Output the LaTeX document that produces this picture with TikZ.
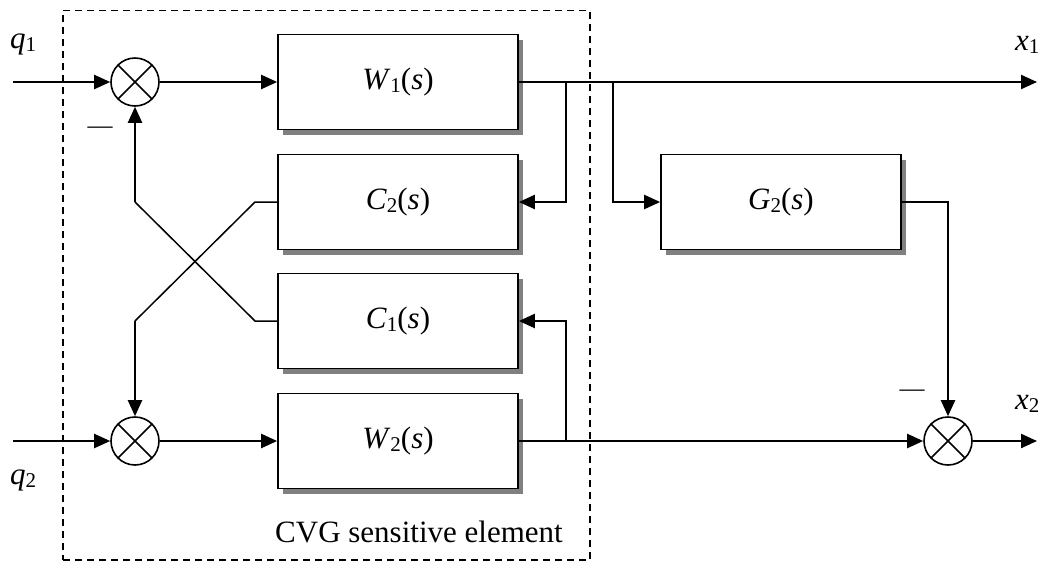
\documentclass[tikz,border=0pt]{standalone}
\usepackage{fontspec}
\setmainfont{Liberation Serif}
\usetikzlibrary{arrows.meta,shadows}
\newcommand{\sbs}[1]{\raisebox{-3pt}{\fontsize{21}{21}\selectfont #1}}
\newcommand{\tf}[2]{\textit{#1}\sbs{#2}(\textit{s})}
\tikzset{
  blk/.style={draw, line width=1.7pt, fill=white, minimum width=240pt, minimum height=95pt,
    inner sep=0pt, font=\fontsize{31}{36}\selectfont,
    drop shadow={shadow xshift=5pt, shadow yshift=-5pt, fill=black!50, opacity=1}},
  sumj/.style={circle, draw, line width=1.6pt, minimum size=48pt, inner sep=0pt, fill=white,
    path picture={\draw[line width=1.6pt] (path picture bounding box.north west) -- (path picture bounding box.south east)
      (path picture bounding box.north east) -- (path picture bounding box.south west);}},
  arr/.style={-{Triangle[length=16pt,width=14pt]}, line width=2.2pt},
  thinwire/.style={line width=1.5pt, line join=miter},
  lab/.style={font=\fontsize{31}{36}\selectfont, inner sep=0pt},
  frame/.style={draw, line width=1.4pt, dash pattern=on 7pt off 5pt, inner sep=0pt}
}
\begin{document}
\begin{tikzpicture}[x=1pt,y=-1pt]
\useasboundingbox (0,0) rectangle (1038,563);
% frame
\node[frame, minimum width=527pt, minimum height=549.3pt] (cvg) at (326.5,285.35) {};
\node[lab, anchor=base west] (cvglab) at (275,542) {CVG sensitive element};
% blocks
\node[blk] (w1) at (398,82) {\tf{W}{1}};
\node[blk] (c2) at (398,202) {\tf{C}{2}};
\node[blk] (c1) at (398,321) {\tf{C}{1}};
\node[blk] (w2) at (398,441) {\tf{W}{2}};
\node[blk] (g2) at (781,202) {\tf{G}{2}};
% summing junctions
\node[sumj] (s1) at (135,82) {};
\node[sumj] (s2) at (135,441) {};
\node[sumj] (s3) at (948,441) {};
% labels
\node[lab, anchor=base west] (q1) at (10,48) {\textit{q}\sbs{1}};
\node[lab, anchor=base west] (q2) at (10,484) {\textit{q}\sbs{2}};
\node[lab, anchor=base west] (x1) at (1015,50) {\textit{x}\sbs{1}};
\node[lab, anchor=base west] (x2) at (1015,409) {\textit{x}\sbs{2}};
\node[inner sep=0pt, font=\fontsize{25}{25}\selectfont] (m1) at (100,130) {—};
\node[inner sep=0pt, font=\fontsize{25}{25}\selectfont] (m2) at (912,393) {—};
% coordinates
\coordinate (q1in) at (13,82);
\coordinate (q2in) at (13,441);
\coordinate (x1out) at (1037,82);
\coordinate (x2out) at (1037,441);
\coordinate (b1) at (566,82);
\coordinate (b2) at (613,82);
\coordinate (b3) at (566,441);
\coordinate (k2) at (255,202);
\coordinate (d2) at (135,321);
\coordinate (k1) at (255,321);
\coordinate (d1) at (135,202);
% connectors
\draw[arr] (q1in) -- (s1.west);
\draw[arr] (s1.east) -- (w1.west);
\draw[arr] (w1.east) -- (x1out);
\draw[arr] (b1) |- (c2.east);
\draw[arr] (b2) |- (g2.west);
\draw[arr] (g2.east) -| (s3.north);
\draw[arr] (q2in) -- (s2.west);
\draw[arr] (s2.east) -- (w2.west);
\draw[arr] (w2.east) -- (s3.west);
\draw[arr] (s3.east) -- (x2out);
\draw[arr] (b3) |- (c1.east);
\draw[thinwire] (c2.west) -- (k2) -- (d2);
\draw[arr] (d2) -- (s2.north);
\draw[thinwire] (c1.west) -- (k1) -- (d1);
\draw[arr] (d1) -- (s1.south);
\end{tikzpicture}
\end{document}
